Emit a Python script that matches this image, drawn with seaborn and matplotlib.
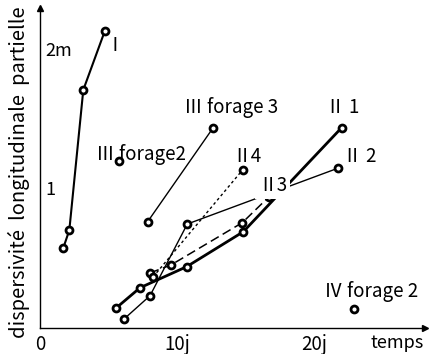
import matplotlib
matplotlib.use("Agg")
import matplotlib.pyplot as plt
import seaborn as sns

# ---- data (temps in days, dispersivity in m) ----
I_t = [1.70, 2.14, 3.16, 4.74]
I_d = [0.573, 0.70, 1.704, 2.128]
II1_t = [5.53, 7.30, 10.71, 14.84, 22.02]
II1_d = [0.141, 0.288, 0.439, 0.689, 1.434]
II2_t = [6.13, 8.03, 10.75, 21.73]
II2_d = [0.064, 0.231, 0.744, 1.143]
II3_t = [8.03, 9.56, 14.77, 16.72]
II3_d = [0.394, 0.451, 0.754, 0.940]
II4_t = [8.25, 14.80]
II4_d = [0.365, 1.133]
III_f3_t = [7.86, 12.63]
III_f3_d = [0.761, 1.432]
III_f2_t = [5.79]
III_f2_d = [1.195]
IV_f2_t = [22.92]
IV_f2_d = [0.136]

x_ticks = [0, 10, 20]
x_tick_labels = ["0", "10j", "20j"]
y_ticks = [1, 2]
y_tick_labels = ["1", "2m"]
y_label = "dispersivité  longitudinale  partielle"
x_label = "temps"

sns.set_style("white")
FAM = ["Noto Sans CJK SC", "DejaVu Sans"]
plt.rcParams["font.family"] = FAM
plt.rcParams["text.color"] = "black"
plt.rcParams["axes.labelcolor"] = "black"
plt.rcParams["xtick.color"] = "black"
plt.rcParams["ytick.color"] = "black"

fig = plt.figure(figsize=(4.31, 3.54), dpi=100)
ax = fig.add_axes([40 / 431, 26 / 354, 385 / 431, 320 / 354])

mk = dict(marker="o", markersize=5, markerfacecolor="white",
          markeredgecolor="black", markeredgewidth=2.0)


def draw(t, d, ls="-", lw=1.0):
    sns.lineplot(x=t, y=d, ax=ax, color="black", linestyle=ls, linewidth=lw,
                 sort=False, estimator=None, **mk)


draw(I_t, I_d, lw=1.5)
draw(II1_t, II1_d, lw=2.0)
draw(II2_t, II2_d, lw=1.0)
draw(II3_t, II3_d, ls=(0, (6, 3)), lw=1.1)
draw(II4_t, II4_d, ls=(0, (2, 2)), lw=1.0)
draw(III_f3_t, III_f3_d, lw=1.0)
draw(III_f2_t, III_f2_d)
draw(IV_f2_t, IV_f2_d)

ax.set_xlim(0, 28.1)
ax.set_ylim(0, 2.29)
for s in ("top", "right"):
    ax.spines[s].set_visible(False)
for s in ("left", "bottom"):
    ax.spines[s].set_color("black")
    ax.spines[s].set_linewidth(1.0)
ax.plot(1, 0, marker=">", color="black", ms=5, transform=ax.transAxes, clip_on=False)
ax.plot(0, 1, marker="^", color="black", ms=5, transform=ax.transAxes, clip_on=False)

ax.set_xticks(x_ticks, x_tick_labels)
ax.set_yticks(y_ticks, y_tick_labels)
ax.tick_params(axis="x", direction="in", length=4, width=1, pad=4, labelsize=13.5)
ax.tick_params(axis="y", direction="in", length=4, width=1, pad=-4, labelsize=13)
for lab in ax.get_yticklabels():
    lab.set_ha("left")

ax.set_xlabel("")
ax.set_ylabel(y_label, fontsize=14.5)
ax.yaxis.set_label_coords(-0.025, 0.4875)

ax.text(24.1, -0.11, x_label, fontsize=13, ha="left", va="center")

labels = [
    (4.75, 2.02, "Ⅰ", False),
    (10.5, 1.575, "Ⅲ forage 3", False),
    (4.1, 1.24, "Ⅲ forage2", False),
    (20.9, 1.575, "Ⅱ 1", False),
    (22.1, 1.224, "Ⅱ 2", False),
    (14.0, 1.224, "Ⅱ4", False),
    (15.9, 1.02, "Ⅱ3", True),
    (20.7, 0.258, "Ⅳ forage 2", False),
]
for x, y, s, box in labels:
    kw = dict(fontsize=13.5, ha="left", va="center", zorder=5)
    if box:
        kw["bbox"] = dict(facecolor="white", edgecolor="none", pad=2)
    ax.text(x, y, s, **kw)

fig.savefig("out.png", dpi=100)
